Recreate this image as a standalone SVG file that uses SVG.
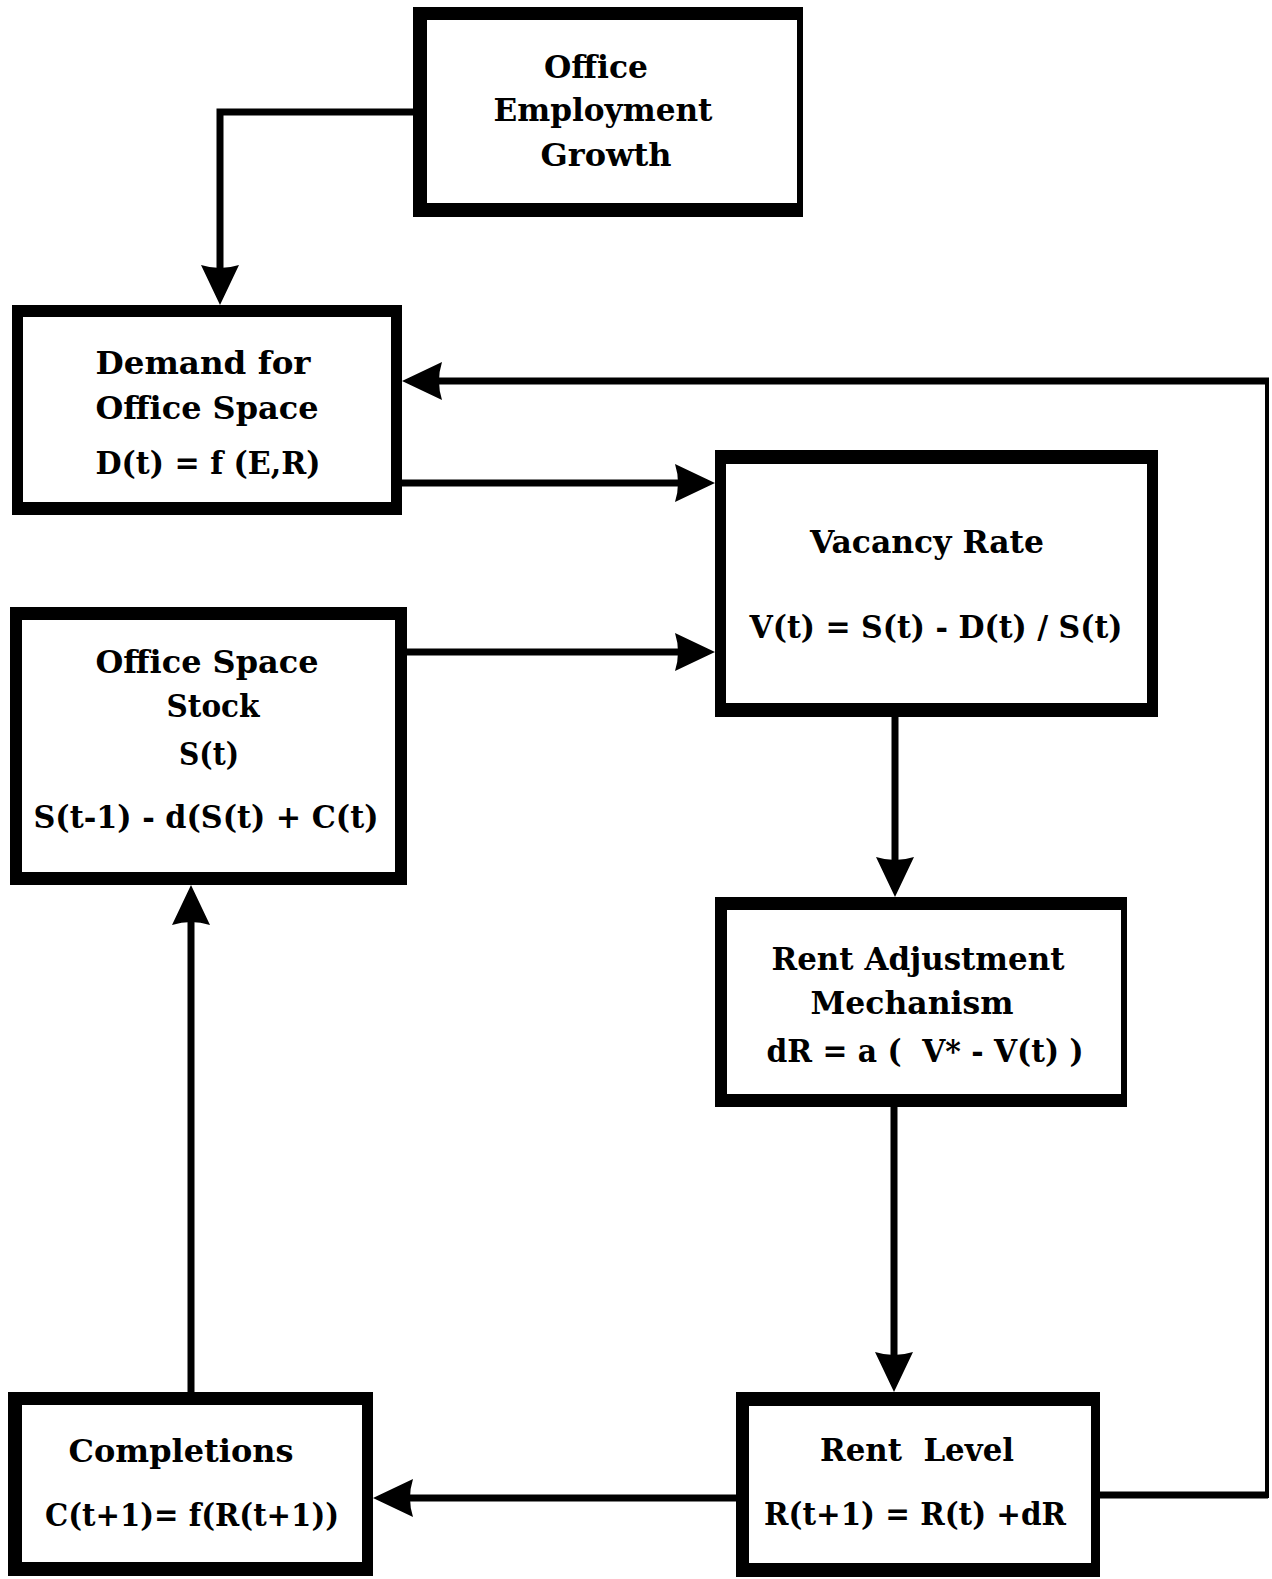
<svg xmlns="http://www.w3.org/2000/svg" width="1272" height="1579" viewBox="0 0 1272 1579">
<style>
.frame{fill:#000}
.inner{fill:#fff}
.t{font-family:"DejaVu Serif","Liberation Serif",serif;font-weight:bold;font-size:32px;fill:#000;text-anchor:middle}
.c{fill:none;stroke:#000;stroke-width:7;stroke-linejoin:miter}
</style>
<defs>
<marker id="ah" viewBox="0 0 40 38" refX="32" refY="19" markerWidth="40" markerHeight="38" markerUnits="userSpaceOnUse" orient="auto">
<path d="M0,0 L40,19 L0,38 Q6,19 0,0 z" fill="#000"/>
</marker>
</defs>
<rect width="1272" height="1579" fill="#fff"/>
<g id="connectors">
<path class="c" d="M413,112 H220 V297" marker-end="url(#ah)"/>
<path class="c" d="M1100,1495 H1268" stroke-width="6"/>
<path class="c" d="M1267,1498 V378" style="stroke-width:4"/>
<path class="c" d="M1269,381 H410" marker-end="url(#ah)"/>
<path class="c" d="M402,483 H707" marker-end="url(#ah)"/>
<path class="c" d="M407,652 H707" marker-end="url(#ah)"/>
<path class="c" d="M895,717 V889" marker-end="url(#ah)"/>
<path class="c" d="M894,1107 V1384" marker-end="url(#ah)"/>
<path class="c" d="M736,1498 H381" marker-end="url(#ah)"/>
<path class="c" d="M191,1392 V893" marker-end="url(#ah)"/>
</g>
<g id="employment">
<rect class="frame" x="413" y="7" width="390" height="210"/>
<rect class="inner" x="427" y="20" width="370" height="183"/>
<text class="t" x="596" y="78" textLength="104" lengthAdjust="spacingAndGlyphs">Office</text>
<text class="t" x="603" y="121" textLength="219" lengthAdjust="spacingAndGlyphs">Employment</text>
<text class="t" x="606" y="166" textLength="131" lengthAdjust="spacingAndGlyphs">Growth</text>
</g>
<g id="demand">
<rect class="frame" x="12" y="305" width="390" height="210"/>
<rect class="inner" x="23" y="317" width="368" height="185"/>
<text class="t" x="203" y="374" textLength="215" lengthAdjust="spacingAndGlyphs">Demand for</text>
<text class="t" x="207" y="419" textLength="223" lengthAdjust="spacingAndGlyphs">Office Space</text>
<text class="t" x="208" y="474" textLength="225" lengthAdjust="spacingAndGlyphs">D(t) = f (E,R)</text>
</g>
<g id="vacancy">
<rect class="frame" x="715" y="450" width="443" height="267"/>
<rect class="inner" x="726" y="464" width="421" height="239"/>
<text class="t" x="927" y="553" textLength="234" lengthAdjust="spacingAndGlyphs">Vacancy Rate</text>
<text class="t" x="936" y="638" textLength="373" lengthAdjust="spacingAndGlyphs">V(t) = S(t) - D(t) / S(t)</text>
</g>
<g id="stock">
<rect class="frame" x="10" y="607" width="397" height="278"/>
<rect class="inner" x="22" y="620" width="373" height="252"/>
<text class="t" x="207" y="673" textLength="223" lengthAdjust="spacingAndGlyphs">Office Space</text>
<text class="t" x="213" y="717" textLength="93" lengthAdjust="spacingAndGlyphs">Stock</text>
<text class="t" x="209" y="765" textLength="60" lengthAdjust="spacingAndGlyphs">S(t)</text>
<text class="t" x="206" y="828" textLength="345" lengthAdjust="spacingAndGlyphs">S(t-1) - d(S(t) + C(t)</text>
</g>
<g id="rentadj">
<rect class="frame" x="715" y="897" width="412" height="210"/>
<rect class="inner" x="727" y="910" width="394" height="184"/>
<text class="t" x="918" y="970" textLength="293" lengthAdjust="spacingAndGlyphs">Rent Adjustment</text>
<text class="t" x="912" y="1014" textLength="203" lengthAdjust="spacingAndGlyphs">Mechanism</text>
<text class="t" x="925" y="1062" textLength="317" lengthAdjust="spacingAndGlyphs" xml:space="preserve">dR = a (  V* - V(t) )</text>
</g>
<g id="completions">
<rect class="frame" x="8" y="1392" width="365" height="184"/>
<rect class="inner" x="22" y="1405" width="340" height="157"/>
<text class="t" x="181" y="1462" textLength="225" lengthAdjust="spacingAndGlyphs">Completions</text>
<text class="t" x="192" y="1526" textLength="294" lengthAdjust="spacingAndGlyphs">C(t+1)= f(R(t+1))</text>
</g>
<g id="rentlevel">
<rect class="frame" x="736" y="1392" width="364" height="185"/>
<rect class="inner" x="749" y="1406" width="342" height="157"/>
<text class="t" x="917" y="1461" textLength="194" lengthAdjust="spacingAndGlyphs" xml:space="preserve">Rent  Level</text>
<text class="t" x="915" y="1525" textLength="302" lengthAdjust="spacingAndGlyphs">R(t+1) = R(t) +dR</text>
</g>
</svg>
